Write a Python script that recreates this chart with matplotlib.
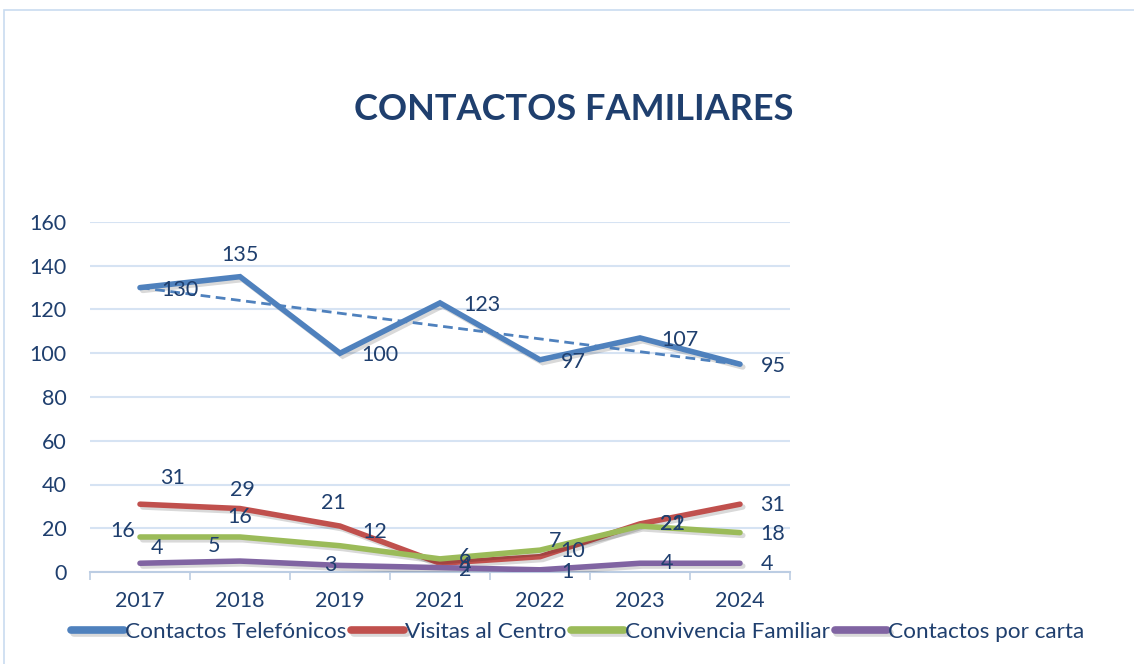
import numpy as np
import matplotlib
matplotlib.use("Agg")
import matplotlib.pyplot as plt
import matplotlib.patheffects as pe
from matplotlib.patches import Rectangle

plt.rcParams["font.family"] = ["Lato", "DejaVu Sans"]

# datos
years = ["2017", "2018", "2019", "2021", "2022", "2023", "2024"]
telefonicos = [130, 135, 100, 123, 97, 107, 95]
visitas = [31, 29, 21, 4, 7, 22, 31]
convivencia = [16, 16, 12, 6, 10, 21, 18]
cartas = [4, 5, 3, 2, 1, 4, 4]

series_names = ["Contactos Telefónicos", "Visitas al Centro",
                "Convivencia Familiar", "Contactos por carta"]
y_ticks = [0, 20, 40, 60, 80, 100, 120, 140, 160]

# estilo
colors = ["#4F81BD", "#C0504D", "#9BBB59", "#8064A2"]
text_color = "#1F3F6E"
grid_color = "#D6E3F3"

# posiciones de las etiquetas (offset en pixeles respecto al punto)
label_offsets = [
    [(40, -2), (0, 22), (40, -2), (42, -2), (33, -2), (40, -2), (33, -2)],
    [(33, 26), (2, 19), (-7, 23), (25, -3), (15, 16), (32, 0), (33, -1)],
    [(-17, 6), (0, 20), (35, 14), (25, 2), (33, -1), (32, 2), (33, -1)],
    [(17, 15), (-26, 15), (-10, 0), (25, -2), (27, -2), (27, 0), (27, -1)],
]

fig = plt.figure(figsize=(11.34, 6.64), dpi=100)
fig.patches.append(Rectangle((4 / 1134, -0.1), 1.2, 1 - 10 / 664 + 0.1,
                             transform=fig.transFigure, fill=False,
                             edgecolor="#C9DCF0", linewidth=1.2))

ax = fig.add_axes([90 / 1134, 92 / 664, 700 / 1134, 350 / 664])
x = np.arange(len(years))

all_series = [telefonicos, visitas, convivencia, cartas]
shadow = [pe.SimpleLineShadow(offset=(2, -2), shadow_color="black", alpha=0.15),
          pe.Normal()]
for vals, col, name in zip(all_series, colors, series_names):
    ax.plot(x, vals, color=col, linewidth=4.0, solid_capstyle="round",
            solid_joinstyle="miter", label=name, path_effects=shadow, zorder=3)

# linea de tendencia (lineal) de contactos telefonicos
coef = np.polyfit(x, telefonicos, 1)
ax.plot(x, np.polyval(coef, x), color=colors[0], linewidth=2.0,
        linestyle=(0, (3.5, 2)), zorder=4)

for vals, offs in zip(all_series, label_offsets):
    for xi, v, (dx, dy) in zip(x, vals, offs):
        ax.annotate(str(v), (xi, v), xytext=(dx, dy), textcoords="offset pixels",
                    ha="center", va="center", fontsize=15.5, color=text_color,
                    zorder=5)

ax.set_xlim(-0.5, len(years) - 0.5)
ax.set_ylim(0, 160)
ax.set_yticks(y_ticks)
ax.set_xticks(x)
ax.set_xticklabels(years)
ax.set_xticks(np.arange(-0.5, len(years)), minor=True)
ax.tick_params(axis="x", which="major", length=0, pad=14, labelsize=15.5,
               labelcolor=text_color)
ax.tick_params(axis="x", which="minor", length=6, color="#BCCDE3", width=1.2)
ax.tick_params(axis="y", length=0, pad=17, labelsize=15.5, labelcolor=text_color)
ax.grid(axis="y", color=grid_color, linewidth=1.5)
ax.set_axisbelow(True)
for s in ["top", "right", "left"]:
    ax.spines[s].set_visible(False)
ax.spines["bottom"].set_color("#BCCDE3")
ax.spines["bottom"].set_linewidth(1.5)

fig.text(574 / 1134, 1 - 110 / 664, "CONTACTOS FAMILIARES", ha="center",
         va="center", fontsize=26, fontweight="bold", color=text_color)

leg = fig.legend(loc="center", bbox_to_anchor=(578 / 1134, 1 - 632 / 664), ncol=4,
                 frameon=False, fontsize=16.2, labelcolor=text_color,
                 handlelength=2.35, handletextpad=0.05, columnspacing=0.2)
for h in leg.legend_handles:
    h.set_linewidth(5.5)
    h.set_solid_capstyle("round")

fig.savefig("out.png", dpi=100)
